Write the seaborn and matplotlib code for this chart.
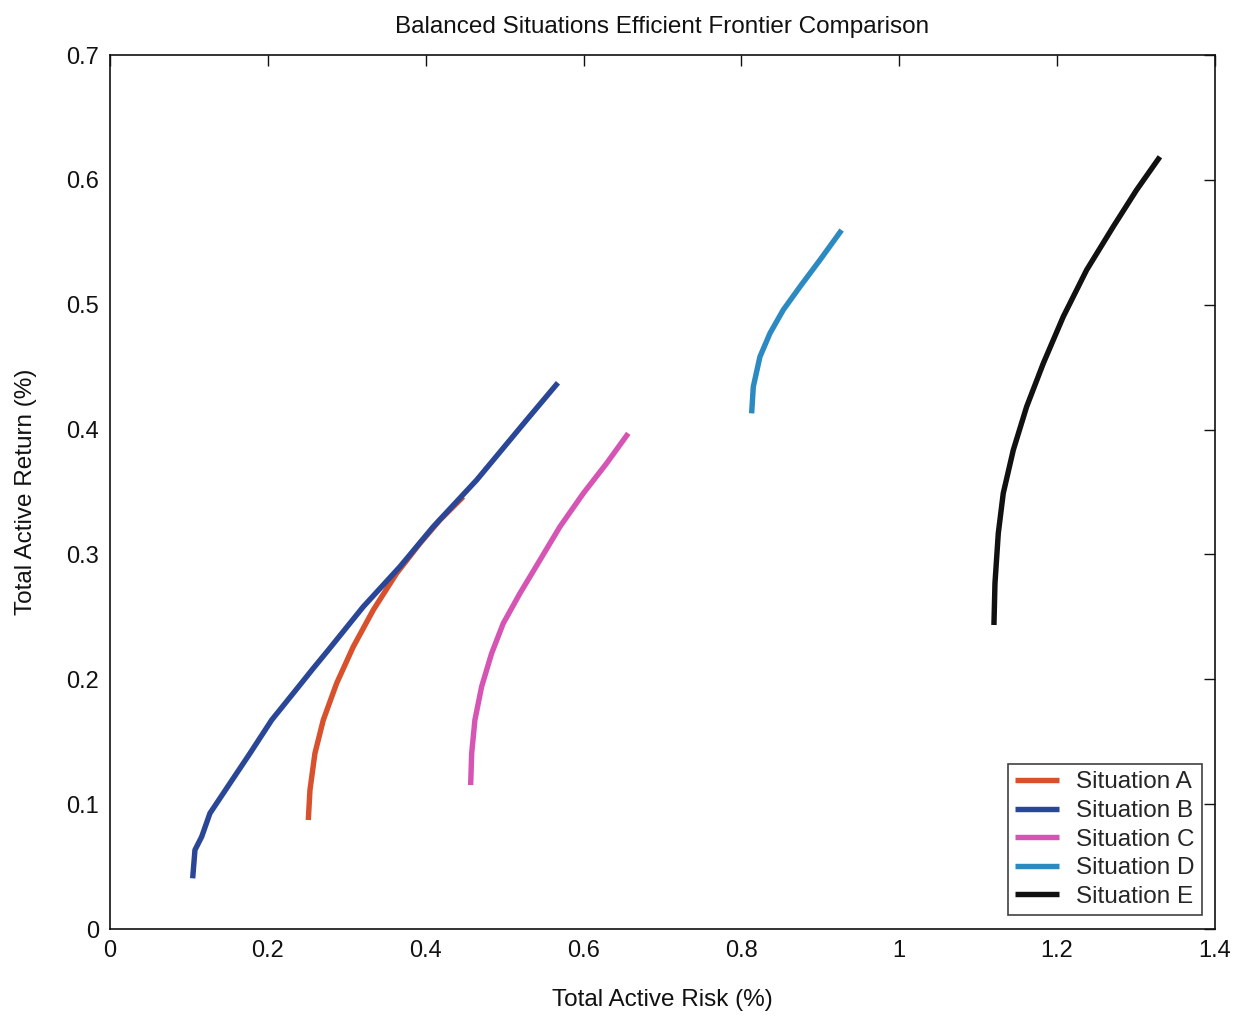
import numpy as np
import pandas as pd
import matplotlib
matplotlib.use("Agg")
import matplotlib.pyplot as plt
import seaborn as sns

situations = ["Situation A", "Situation B", "Situation C", "Situation D", "Situation E"]

risk_a = [0.2513, 0.2534, 0.2597, 0.2703, 0.2872, 0.3083, 0.3336, 0.3632, 0.3928, 0.4181, 0.4476]
ret_a = [0.0873, 0.1113, 0.1407, 0.1674, 0.1968, 0.2261, 0.2555, 0.2849, 0.3089, 0.3276, 0.3462]

risk_b = [0.1048, 0.1077, 0.1162, 0.1267, 0.152, 0.1774, 0.2049, 0.2322, 0.2576, 0.2766,
          0.3209, 0.3674, 0.4096, 0.4646, 0.5279, 0.5676]
ret_b = [0.0406, 0.0633, 0.0739, 0.0927, 0.1167, 0.1407, 0.1674, 0.1888, 0.2088, 0.2234,
         0.2581, 0.2902, 0.3222, 0.3596, 0.4077, 0.4375]

risk_c = [0.457, 0.4583, 0.4624, 0.4709, 0.4836, 0.4983, 0.5195, 0.5448, 0.5701, 0.5997, 0.6293, 0.6567]
ret_c = [0.1153, 0.1407, 0.1674, 0.1941, 0.2208, 0.2448, 0.2689, 0.2955, 0.3222, 0.3489, 0.373, 0.397]

risk_d = [0.813, 0.8151, 0.8235, 0.8362, 0.853, 0.8742, 0.8995, 0.927]
ret_d = [0.413, 0.4343, 0.4583, 0.4771, 0.4958, 0.5144, 0.5358, 0.5598]

risk_e = [1.12, 1.1213, 1.1255, 1.1318, 1.1445, 1.1614, 1.1825, 1.2078, 1.2374, 1.2711, 1.3007, 1.3303]
ret_e = [0.2435, 0.2769, 0.3169, 0.349, 0.3836, 0.4183, 0.453, 0.4904, 0.5278, 0.5625, 0.5919, 0.6185]

x_ticks = [0, 0.2, 0.4, 0.6, 0.8, 1, 1.2, 1.4]
x_tick_labels = ["0", "0.2", "0.4", "0.6", "0.8", "1", "1.2", "1.4"]
y_ticks = [0, 0.1, 0.2, 0.3, 0.4, 0.5, 0.6, 0.7]
y_tick_labels = ["0", "0.1", "0.2", "0.3", "0.4", "0.5", "0.6", "0.7"]

colors = ["#D8502C", "#2A4797", "#D655B4", "#2C8AC2", "#111111"]

frames = []
for name, xs, ys in zip(situations,
                        [risk_a, risk_b, risk_c, risk_d, risk_e],
                        [ret_a, ret_b, ret_c, ret_d, ret_e]):
    frames.append(pd.DataFrame({"risk": xs, "ret": ys, "Situation": name}))
df = pd.concat(frames, ignore_index=True)

sns.set_theme(style="white")
plt.rcParams["font.family"] = ["Liberation Sans", "DejaVu Sans"]

fig = plt.figure(figsize=(12.41, 10.19), dpi=100)
ax = fig.add_axes([0.0886, 0.0883, 0.8904, 0.8577])

sns.lineplot(data=df, x="risk", y="ret", hue="Situation", hue_order=situations,
             palette=colors, sort=False, estimator=None, units="Situation",
             linewidth=3.9, ax=ax, legend=True)
for ln in ax.get_lines():
    ln.set_solid_capstyle("butt")
    ln.set_solid_joinstyle("round")

ax.set_xlim(0, 1.4)
ax.set_ylim(0, 0.7)
ax.set_xticks(x_ticks)
ax.set_xticklabels(x_tick_labels)
ax.set_yticks(y_ticks)
ax.set_yticklabels(y_tick_labels)
ax.tick_params(direction="in", top=True, right=True, length=8, width=1,
               labelsize=17, colors="#111111", pad=8)
for s in ax.spines.values():
    s.set_color("#111111")
    s.set_linewidth(1.2)

ax.set_xlabel("Total Active Risk (%)", fontsize=17.5, color="#111111", labelpad=19)
ax.set_ylabel("Total Active Return (%)", fontsize=17.5, color="#111111", labelpad=21)
ax.set_title("Balanced Situations Efficient Frontier Comparison", fontsize=17.5,
             color="#111111", pad=16)

leg = ax.legend(loc="lower right", bbox_to_anchor=(0.9882, 0.016), borderaxespad=0,
                fontsize=17.5, frameon=True, fancybox=False, edgecolor="#111111",
                handlelength=1.8, handletextpad=0.7, borderpad=0.3,
                labelspacing=0.27, title=None)
leg.get_frame().set_linewidth(1.2)
for line in leg.get_lines():
    line.set_linewidth(3.9)

fig.savefig("out.png", dpi=100, facecolor="white")
